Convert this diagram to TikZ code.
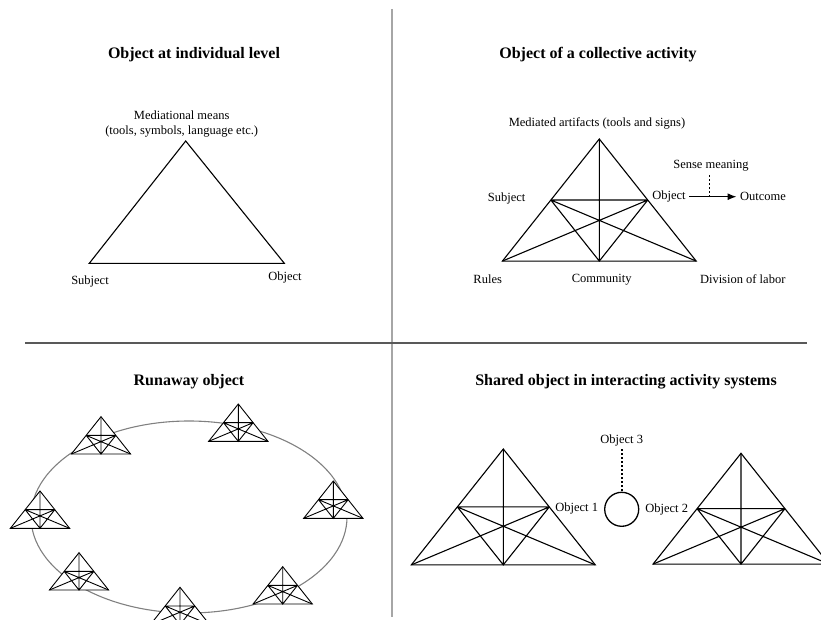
\documentclass[tikz,border=0pt]{standalone}
\usepackage{fontspec}
\setmainfont{Liberation Serif}
\usetikzlibrary{arrows.meta, positioning}

\tikzset{
  acttri/.pic={
    \coordinate (-top) at (0,0);
    \coordinate (-rul) at (-1,1.26);
    \coordinate (-div) at (1,1.26);
    \coordinate (-com) at (0,1.26);
    \coordinate (-sub) at (-0.5,0.63);
    \coordinate (-obj) at (0.5,0.63);
    \filldraw[fill=white] (-top) -- (-rul) -- (-div) -- cycle;
    \draw (-top) -- (-com) (-sub) -- (-obj) (-sub) -- (-com) -- (-obj) (-sub) -- (-div) (-obj) -- (-rul);
  }
}

\begin{document}
\begin{tikzpicture}[x=1pt, y=-1pt, every node/.style={font=\fontsize{12.5}{15}\selectfont}, ttl/.style={font=\fontsize{16}{19}\selectfont\bfseries}, big/.style={line width=1.1pt, scale=97.5}, small/.style={line width=0.9pt, scale=29.7}, lbl/.style={inner sep=3.3pt}, dots/.style={line width=1.6pt, dash pattern=on 2.2pt off 1.8pt}]
  \useasboundingbox (0,0) rectangle (821,620);
  \draw[line width=1.4pt, black!35] (392,9) -- (392,617);
  \draw[line width=1.4pt, black!65] (25,343) -- (807,343);

  \node[ttl] (t1) at (194,55) {Object at individual level};
  \node[ttl] (t2) at (598,55) {Object of a collective activity};
  \node[ttl] (t3) at (189,382) {Runaway object};
  \node[ttl] (t4) at (626,382) {Shared object in interacting activity systems};

  % individual level
  \coordinate (ia) at (185.7,141);
  \coordinate (is) at (89.3,263.3);
  \coordinate (io) at (284.3,263.3);
  \draw[line width=1.1pt] (ia) -- (is) -- (io) -- cycle;
  \node[align=center] (imed) at (181.7,124.2) {Mediational means\\(tools, symbols, language etc.)};
  \node (isub) at (90,281.7) {Subject};
  \node (iobj) at (285,277) {Object};

  % collective activity
  \pic[big] (ca) at (599.3,139) {acttri};
  \node (cmed) at (597,123) {Mediated artifacts (tools and signs)};
  \node (csub) at (506.7,198.3) {Subject};
  \node[lbl] (cobj) at (669,196.7) {Object};
  \node[lbl] (cout) at (763,196.7) {Outcome};
  \node (csns) at (711,166) {Sense meaning};
  \node (crul) at (487.7,279.3) {Rules};
  \node (ccom) at (601.7,279.3) {Community};
  \node (cdiv) at (742.7,279.3) {Division of labor};
  \draw[line width=1.3pt, -{Latex[length=9pt, width=7pt]}] (cobj.east) -- (cout.west);
  \coordinate (cfoot) at (709.3,196.7);
  \draw[dots] (cfoot |- csns.south) -- (cfoot);

  % runaway object
  \draw[line width=1.1pt, black!50] (189,517) ellipse [x radius=158, y radius=96];
  \foreach \px/\py [count=\i] in {101/416.7, 238.3/404, 333.3/481, 40/491, 79/552.7, 282.7/566.7, 180/587.3}
    \pic[small] (ro\i) at (\px,\py) {acttri};

  % shared object
  \pic[line width=1.1pt, scale=92] (sa) at (503.3,449) {acttri};
  \pic[line width=1.1pt, scale=88] (sb) at (741,453.3) {acttri};
  \node[draw, circle, line width=1.3pt, minimum size=34pt, inner sep=0pt] (shr) at (621.7,509.3) {};
  \node (so3) at (621.7,440) {Object 3};
  \node (so1) at (576.7,508.3) {Object 1};
  \node (so2) at (666.7,509.3) {Object 2};
  \draw[dots] (so3.south) -- (shr.north);
\end{tikzpicture}
\end{document}
